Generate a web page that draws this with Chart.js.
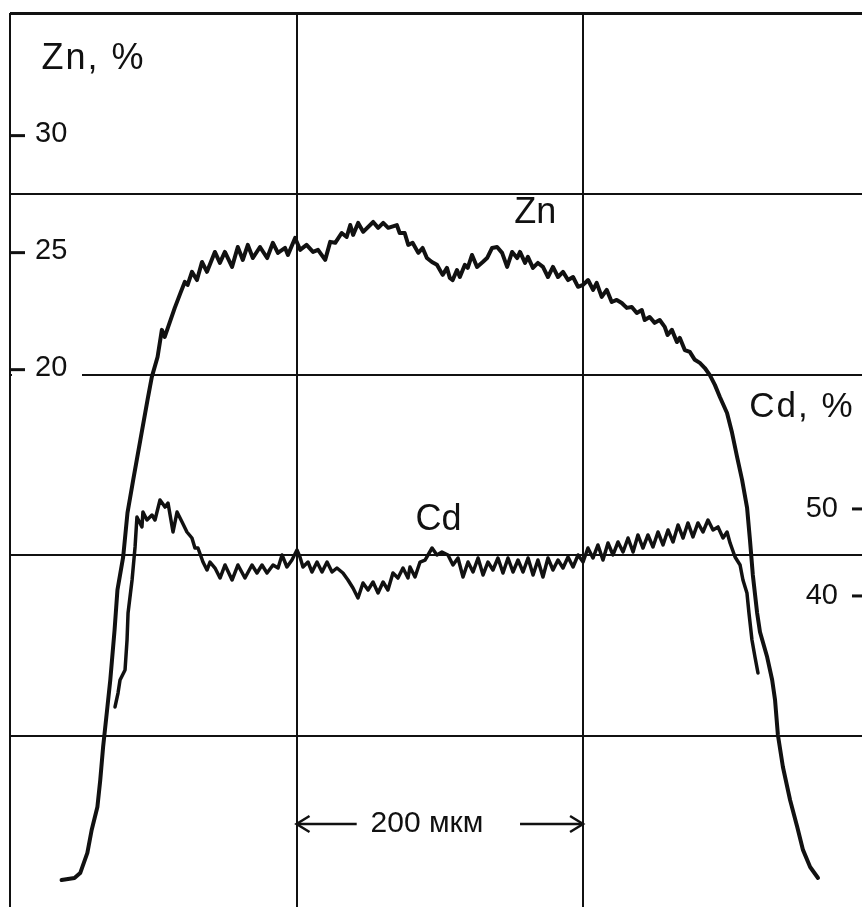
<!DOCTYPE html>
<html>
<head>
<meta charset="utf-8">
<script src="https://cdn.jsdelivr.net/npm/chart.js@4.4.1/dist/chart.umd.min.js"></script>
<style>
  html, body { margin: 0; padding: 0; background: #fff; }
</style>
</head>
<body>
<canvas id="profileChart" width="862" height="907"></canvas>
<script>
// distance along the scan line, µm (0 = left edge of the paper grid)
const znX = [
    36, 45, 49, 54, 57, 61, 63, 65, 68, 70, 73, 75, 79, 82, 86, 91, 96, 99, 103, 106,
    108, 115, 119, 122, 124, 127, 130.5, 134, 137.5, 143, 146.5, 150, 155, 159, 162.5, 166, 169.5, 174.5, 179.5, 183.5,
    187, 192, 194, 199, 202.5, 207, 211.5, 215, 220, 223.5, 227, 231.5, 235, 237.5, 239.5, 243, 246.5, 253.5, 257, 260.5,
    264, 270, 272, 275.5, 278, 281, 285, 288, 291, 294.5, 298, 302, 305, 307, 309, 312, 314, 317.5, 319.5, 322.5,
    326, 330, 333, 336.5, 340, 343.5, 347, 350.5, 354, 356, 359.5, 361.5, 365, 368.5, 372, 375.5, 379, 382.5, 386, 389.5,
    393, 396.5, 400, 403.5, 407, 409.5, 413, 416.5, 420, 423.5, 427, 430.5, 434, 437.5, 441, 443, 446.5, 450, 453.5, 457,
    459, 462, 465.5, 467.5, 471, 474.5, 478, 481.5, 485, 488.5, 492, 495.5, 500.5, 504, 507.5, 511, 514.5, 516.5, 518.5, 521.5,
    523.5, 528.5, 532, 534, 536, 539.5, 544.5, 549.5, 553.5, 558.5, 564
];
// Zn, % (left scale)
const znPct = [
    -1.81, -1.72, -1.51, -0.65, 0.33, 1.31, 2.47, 3.88, 5.59, 6.74, 8.88, 10.59, 12.0, 13.88, 15.29, 17.0, 18.71, 19.69, 20.54, 21.7,
    21.4, 22.64, 23.28, 23.75, 23.62, 24.18, 23.83, 24.6, 24.18, 25.03, 24.56, 25.03, 24.39, 25.24, 24.69, 25.33, 24.77, 25.24, 24.77, 25.42,
    24.99, 25.2, 24.9, 25.63, 25.12, 25.33, 25.03, 25.12, 24.69, 25.46, 25.42, 25.84, 25.67, 26.18, 25.76, 26.27, 25.89, 26.31, 26.06, 26.27,
    26.06, 26.18, 25.84, 25.84, 25.33, 25.42, 24.99, 25.2, 24.77, 24.6, 24.48, 24.05, 24.35, 23.92, 23.83, 24.26, 23.96, 24.48, 24.35, 24.9,
    24.39, 24.6, 24.77, 25.2, 25.24, 24.99, 24.39, 25.03, 24.77, 25.03, 24.56, 24.82, 24.35, 24.56, 24.39, 23.96, 24.39, 23.96, 24.18, 23.83,
    23.96, 23.54, 23.62, 23.83, 23.41, 23.71, 23.11, 23.41, 22.89, 22.98, 22.85, 22.64, 22.68, 22.42, 22.55, 22.12, 22.25, 22.0, 22.12, 21.83,
    21.48, 21.7, 21.18, 21.36, 20.84, 20.76, 20.42, 20.29, 20.07, 19.77, 19.35, 18.83, 18.15, 17.3, 16.27, 15.29, 14.09, 12.72, 11.23, 9.6,
    8.79, 7.72, 6.74, 5.89, 4.39, 3.02, 1.61, 0.46, -0.52, -1.25, -1.72
];

const cdX = [
    73.3, 75.4, 76.8, 80.3, 81.7, 82.4, 85.2, 87.3, 88.6, 92.1, 92.8, 95.6, 99.1, 101.2, 104.7, 108.2, 110.3, 113.8, 116.6, 120.1,
    123.5, 127.0, 129.1, 131.2, 134.7, 137.5, 139.6, 143.1, 146.6, 150.1, 155.0, 159.1, 164.0, 168.9, 172.4, 175.9, 179.4, 183.6, 187.1, 189.9,
    193.3, 196.8, 200.3, 202.4, 204.5, 208.0, 210.8, 214.3, 217.8, 221.3, 224.8, 228.2, 232.4, 235.9, 239.4, 242.9, 246.4, 249.9, 253.4, 256.9,
    260.4, 263.8, 267.3, 270.8, 274.3, 277.8, 279.2, 282.7, 286.2, 289.7, 294.6, 298.0, 301.5, 305.7, 309.2, 312.7, 316.2, 319.7, 323.2, 326.7,
    330.2, 333.6, 337.1, 340.6, 344.1, 347.6, 351.1, 354.6, 358.1, 361.6, 365.1, 368.5, 372.0, 375.5, 379.0, 382.5, 386.0, 389.5, 393.0, 396.5,
    400.0, 403.4, 406.9, 410.4, 413.9, 417.4, 420.9, 424.4, 427.9, 431.4, 434.9, 438.3, 441.8, 445.3, 448.8, 452.3, 455.8, 459.3, 462.8, 466.3,
    469.8, 473.2, 476.7, 480.2, 483.7, 487.2, 490.7, 494.2, 497.7, 500.5, 502.6, 506.1, 509.6, 511.6, 514.4, 515.8, 517.9, 520.0, 522.1
];
// Cd, % (right scale)
const cdPct = [
    27.24, 28.84, 30.34, 31.49, 34.94, 38.04, 41.83, 45.63, 49.07, 47.93, 49.65, 48.73, 49.3, 48.73, 51.03, 50.22, 50.68, 47.35, 49.65, 48.5,
    47.35, 46.66, 45.51, 45.51, 43.9, 42.98, 43.9, 43.21, 42.06, 43.56, 41.83, 43.56, 42.06, 43.56, 42.64, 43.56, 42.64, 43.56, 43.21, 44.71,
    43.33, 44.13, 45.28, 44.48, 43.33, 43.9, 42.75, 43.9, 42.75, 43.9, 42.75, 43.21, 42.64, 41.83, 40.91, 39.76, 41.49, 40.68, 41.6, 40.34,
    41.6, 40.68, 42.64, 42.06, 43.21, 42.06, 43.33, 42.18, 43.9, 44.13, 45.51, 44.71, 45.05, 44.71, 43.56, 44.36, 42.18, 43.9, 42.75, 44.36,
    42.41, 43.9, 42.98, 44.36, 42.64, 44.36, 42.75, 44.13, 42.75, 44.36, 42.41, 44.13, 42.18, 44.36, 42.98, 44.13, 43.21, 44.48, 43.33, 44.71,
    43.9, 45.51, 44.36, 45.86, 44.13, 46.09, 44.71, 46.2, 45.05, 46.66, 45.05, 47.01, 45.51, 47.01, 45.63, 47.35, 45.86, 47.58, 46.2, 48.16,
    46.66, 48.39, 46.78, 48.39, 47.35, 48.73, 47.58, 47.93, 46.66, 47.35, 46.09, 44.48, 43.56, 41.83, 40.34, 38.04, 34.94, 32.98, 31.14
];

const znTicks = [20, 25, 30];
const cdTicks = [40, 50];
const distGrid = [0, 200, 400];   // vertical lines of the recorder paper, µm
const paperRows = [0, 1, 2, 3, 4]; // horizontal lines of the recorder paper

const FONT = '"Liberation Sans", Arial, Helvetica, sans-serif';

// free text on the plot, placed in x (µm) / paper-row units
const notes = [
    { text: 'Zn, %', x: 22, row: 0.31, size: 36, spacing: 2 },
    { text: 'Zn', x: 352, row: 1.16, size: 36, spacing: 0 },
    { text: 'Cd', x: 283, row: 2.86, size: 36, spacing: 0 },
    { text: 'Cd, %', x: 516, row: 2.235, size: 35, spacing: 2 }
];

function drawArrowHead(ctx, x, y, dir) {
    ctx.beginPath();
    ctx.moveTo(x - dir * 13, y - 8);
    ctx.lineTo(x, y);
    ctx.lineTo(x - dir * 13, y + 8);
    ctx.stroke();
}

const paperMarks = {
    id: 'paperMarks',
    beforeDatasetsDraw(chart) {
        // the 20 % row of the grid stops short of the axis labels
        const { ctx, chartArea, scales } = chart;
        const y = scales.paper.getPixelForValue(2);
        ctx.save();
        ctx.fillStyle = '#fff';
        ctx.fillRect(chartArea.left + 2, y - 3, 70, 6);
        ctx.restore();
    },
    afterDatasetsDraw(chart) {
        const { ctx, chartArea, scales } = chart;
        const zn = scales.zn, cd = scales.cd, x = scales.x, paper = scales.paper;
        ctx.save();
        ctx.fillStyle = '#111';
        ctx.strokeStyle = '#111';
        ctx.lineWidth = 3;

        // Zn scale, inside the left edge
        ctx.font = '29px ' + FONT;
        ctx.textAlign = 'left';
        ctx.textBaseline = 'middle';
        znTicks.forEach(v => {
            const y = zn.getPixelForValue(v);
            ctx.beginPath();
            ctx.moveTo(chartArea.left, y);
            ctx.lineTo(chartArea.left + 15, y);
            ctx.stroke();
            ctx.fillText(String(v), chartArea.left + 25, y - 2);
        });

        // Cd scale, inside the right edge
        ctx.textAlign = 'right';
        cdTicks.forEach(v => {
            const y = cd.getPixelForValue(v);
            ctx.beginPath();
            ctx.moveTo(chartArea.right - 10, y);
            ctx.lineTo(chartArea.right, y);
            ctx.stroke();
            ctx.fillText(String(v), chartArea.right - 24, y);
        });

        // titles and curve names
        ctx.textAlign = 'left';
        ctx.textBaseline = 'alphabetic';
        notes.forEach(n => {
            ctx.font = n.size + 'px ' + FONT;
            ctx.letterSpacing = n.spacing + 'px';
            ctx.fillText(n.text, x.getPixelForValue(n.x), paper.getPixelForValue(n.row));
        });
        ctx.letterSpacing = '0px';

        // 200 µm scale bar between two grid lines
        const yBar = paper.getPixelForValue(4.487);
        const x0 = x.getPixelForValue(200), x1 = x.getPixelForValue(400);
        ctx.lineWidth = 2.5;
        ctx.beginPath();
        ctx.moveTo(x0, yBar);
        ctx.lineTo(x.getPixelForValue(242), yBar);
        ctx.moveTo(x.getPixelForValue(356), yBar);
        ctx.lineTo(x1, yBar);
        ctx.stroke();
        drawArrowHead(ctx, x0, yBar, -1);
        drawArrowHead(ctx, x1, yBar, 1);
        ctx.font = '30px ' + FONT;
        ctx.textAlign = 'center';
        ctx.textBaseline = 'middle';
        ctx.fillText('200 мкм', x.getPixelForValue(291), yBar);
        ctx.restore();
    }
};

const lineStyle = {
    borderColor: '#111',
    pointRadius: 0,
    tension: 0,
    fill: false,
    borderJoinStyle: 'round',
    borderCapStyle: 'round'
};

const ctx = document.getElementById('profileChart').getContext('2d');
new Chart(ctx, {
    type: 'line',
    data: {
        datasets: [
            Object.assign({
                label: 'Zn',
                data: znX.map((v, i) => ({ x: v, y: znPct[i] })),
                yAxisID: 'zn',
                borderWidth: 4
            }, lineStyle),
            Object.assign({
                label: 'Cd',
                data: cdX.map((v, i) => ({ x: v, y: cdPct[i] })),
                yAxisID: 'cd',
                borderWidth: 3.5
            }, lineStyle)
        ]
    },
    options: {
        responsive: false,
        animation: false,
        events: [],
        layout: { padding: { left: 10, top: 13, right: 0, bottom: 0 } },
        plugins: {
            legend: { display: false },
            tooltip: { enabled: false }
        },
        scales: {
            x: {
                type: 'linear',
                min: 0,
                max: 594.7,
                afterBuildTicks: s => { s.ticks = distGrid.map(v => ({ value: v })); },
                afterFit: s => { s.height = 0; },
                ticks: { display: false },
                grid: { color: '#111', lineWidth: 2, drawTicks: false },
                border: { display: false }
            },
            paper: {
                type: 'linear',
                position: 'left',
                reverse: true,
                min: 0,
                max: 4.946,
                afterBuildTicks: s => { s.ticks = paperRows.map(v => ({ value: v })); },
                afterFit: s => { s.width = 0; },
                ticks: { display: false },
                grid: {
                    color: '#111',
                    lineWidth: c => (c.tick && c.tick.value === 0 ? 3 : 2),
                    drawTicks: false
                },
                border: { display: false }
            },
            zn: { type: 'linear', display: false, min: -2.96, max: 35.24 },
            cd: { type: 'linear', display: false, min: 4.25, max: 107.0 }
        }
    },
    plugins: [paperMarks]
});
</script>
</body>
</html>
